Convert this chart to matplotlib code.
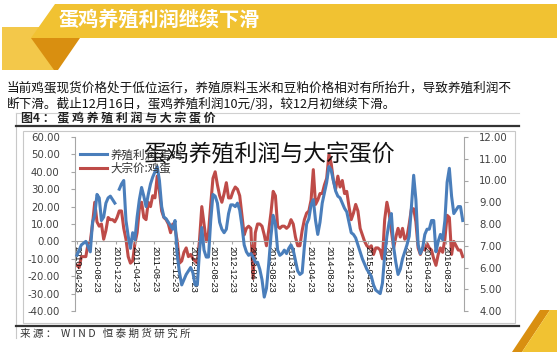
import matplotlib
matplotlib.use("Agg")
import matplotlib.pyplot as plt
import matplotlib.patches as mpatches
import matplotlib.dates as mdates
import numpy as np
import pandas as pd

plt.rcParams['font.family'] = ['Noto Sans CJK SC', 'DejaVu Sans']

# ---- data (one point every 14 days from 2010-04-23) ----
start_date = "2010-04-23"
profit = [
    -8, -5, -2, -1, 0, -3, -6, 11, 15, 27,
    25, 12, 14, 22, 25, 26, 24, 22, np.nan, 30,
    33, 35, 12, 3, -4, 5, 1, 14, 24, 31,
    26, 20, 27, 33, 37, 40, 43, 35, 20, 14,
    13, 11, 9, 7, 12, -8, -18, -25, -22, -19,
    -17, -15, -18, -25, -25, -5, 8, -5, -9, -9,
    12, 27, 26, 22, 11, 7, 5, 7, 16, 21,
    21, 20, 22, 18, 9, -2, -6, -8, -7, -9,
    -12, -12, -16, -22, -32, -27, -13, 3, 15, 10,
    -5, -8, -7, -5, -7, -4, -2, -5, -11, -17,
    -19, -18, -3, 10, 13, 21, 24, 12, 4, 11,
    22, 28, 34, 43, 41, 35, 29, 26, 25, 22,
    19, 17, 11, 5, 4, 2, -2, -6, -10, -13,
    -16, -18, -20, -25, -28, -29, -30, -24, -8, 3,
    11, 16, -3, -12, -19, -16, -10, -6, -2, 3,
    20, 38, 24, -2, -7, -4, 4, 7, 7, 12,
    12, -6, 0, 4, 1, 12, 34, 42, 26, 16,
    18, 20, 20, 12,
]
egg_price = [
    6.1, 6.0, 6.5, 6.5, 6.5, 7.1, 7.2, 8.0, 9.0, 8.1,
    7.9, 8.0, 7.3, 7.7, 8.3, 8.2, 8.2, 8.1, 8.3, 8.6,
    8.6, 7.8, 7.3, 6.5, 6.2, 6.3, 7.1, 7.6, 8.7, 9.0,
    8.3, 8.2, 9.0, 8.8, 9.3, 9.2, 10.2, 9.5, 8.6, 8.3,
    8.2, 8.0, 7.6, 8.0, 7.8, 7.2, 6.2, 6.3, 6.7, 6.9,
    6.5, 6.6, 6.4, 6.3, 6.2, 7.3, 8.8, 8.0, 7.2, 7.6,
    8.9, 10.1, 10.4, 9.8, 9.3, 9.0, 9.4, 9.9, 9.2, 9.2,
    9.5, 9.7, 9.6, 9.3, 8.4, 7.5, 7.8, 7.9, 7.8, 5.5,
    7.6, 8.0, 8.0, 7.9, 7.5, 7.0, 7.7, 8.5, 9.5, 9.3,
    7.9, 7.8, 7.9, 7.9, 7.8, 7.9, 8.2, 8.0, 7.4, 7.0,
    7.0, 7.7, 8.2, 8.5, 8.6, 9.1, 10.5, 8.9, 9.1, 9.4,
    9.4, 9.8, 10.1, 11.2, 10.8, 10.0, 9.6, 10.2, 9.7, 10.0,
    9.4, 9.5, 8.8, 8.2, 8.5, 8.9, 8.6, 7.8, 7.5, 7.2,
    7.0, 6.9, 7.0, 6.6, 6.9, 6.9, 6.8, 6.4, 8.2, 9.0,
    8.5, 7.7, 6.9, 7.4, 7.8, 7.4, 7.8, 7.3, 7.4, 8.0,
    8.7, 8.7, 8.1, 6.9, 6.6, 6.9, 6.8, 7.1, 6.9, 6.8,
    6.4, 6.1, 6.6, 6.9, 6.7, 7.3, 8.4, 8.3, 6.6, 7.2,
    7.0, 6.8, 6.8, 6.5,
]
tick_dates = pd.date_range("2010-04-23", "2016-08-23", freq=pd.DateOffset(months=4))
left_ticks = [60, 50, 40, 30, 20, 10, 0, -10, -20, -30, -40]
right_ticks = [12, 11, 10, 9, 8, 7, 6, 5, 4]

dates = pd.date_range(start_date, periods=len(profit), freq="14D")

W, H = 557, 352
fig = plt.figure(figsize=(W / 100, H / 100), dpi=100)

# background / decoration layer in pixel coordinates
bg = fig.add_axes([0, 0, 1, 1])
bg.set_xlim(0, W)
bg.set_ylim(H, 0)
bg.axis("off")

yellow = "#F1C232"
light_yellow = "#F3C84A"
orange = "#D98F10"

bg.add_patch(mpatches.Rectangle((2, 27), 55, 43, color=light_yellow, lw=0))
bg.add_patch(mpatches.Polygon([(55, 4), (W, 4), (W, 38), (31, 38)], color=yellow, lw=0))
bg.add_patch(mpatches.Polygon([(31, 38), (80, 38), (58, 70), (54, 70)], color=orange, lw=0))
bg.add_patch(mpatches.Polygon([(540, 310), (550, 310), (522, 352), (512, 352)], color=orange, lw=0))
bg.add_patch(mpatches.Polygon([(550, 310), (W, 310), (W, 352), (522, 352)], color=yellow, lw=0))

bg.text(59, 19, "蛋鸡养殖利润继续下滑", color="white", fontsize=14.5,
        fontweight="bold", va="center", ha="left")

bg.text(7, 88, "当前鸡蛋现货价格处于低位运行，养殖原料玉米和豆粕价格相对有所抬升，导致养殖利润不",
        fontsize=9.1, va="center", ha="left", color="#111111")
bg.text(7, 104, "断下滑。截止12月16日，蛋鸡养殖利润10元/羽，较12月初继续下滑。",
        fontsize=9.1, va="center", ha="left", color="#111111")

# figure frame
bg.plot([16, 16], [113, 338], color="#C8C8C8", lw=0.8)
bg.plot([16, 519], [113, 113], color="#D0D0D0", lw=0.8)
bg.plot([16, 519], [125.5, 125.5], color="#333333", lw=1.6)
bg.plot([16, 519], [325.5, 325.5], color="#333333", lw=1.6)
bg.add_patch(mpatches.Rectangle((22.7, 131), 492, 192, fill=False, ec="#C8C8C8", lw=0.8))

bg.text(21, 119, "图4 ： 蛋 鸡 养 殖 利 润 与 大 宗 蛋 价", fontsize=8.6,
        fontweight="bold", va="center", ha="left", color="#222222")
bg.text(20, 333.5, "来 源 ：  W I N D   恒 泰 期 货 研 究 所", fontsize=7.6,
        va="center", ha="left", color="#333333")

# chart
ax = fig.add_axes([75 / W, 1 - 311 / H, (464 - 75) / W, (311 - 137) / H])
ax.patch.set_alpha(0)
ax2 = ax.twinx()

blue = "#4A7EBB"
red = "#BE4B48"
l1, = ax.plot(dates, profit, color=blue, lw=2.2, label="养殖利润:蛋鸡", zorder=3)
l2, = ax2.plot(dates, egg_price, color=red, lw=2.2, label="大宗价:鸡蛋", zorder=2)
ax.set_zorder(ax2.get_zorder() + 1)

ax.set_ylim(-40, 60)
ax2.set_ylim(4, 12)
ax.set_xlim(pd.Timestamp("2010-04-11"), pd.Timestamp("2016-12-17"))

grey = "#A6A6A6"
for a in (ax, ax2):
    a.spines["top"].set_visible(False)
    a.spines["left"].set_color(grey)
    a.spines["right"].set_color(grey)
    a.spines["bottom"].set_visible(False)
ax.spines["bottom"].set_visible(True)
ax.spines["bottom"].set_position(("data", 0))
ax.spines["bottom"].set_color(grey)
ax2.spines["left"].set_visible(False)
ax.spines["right"].set_visible(False)

ax.set_yticks(left_ticks)
ax.set_yticklabels([f"{v:.2f}" for v in left_ticks], fontsize=7.3,
                   family="DejaVu Sans", color="#404040")
ax2.set_yticks(right_ticks)
ax2.set_yticklabels([f"{v:.2f}" for v in right_ticks], fontsize=7.3,
                    family="DejaVu Sans", color="#404040")
ax.tick_params(axis="y", direction="out", length=3, color=grey, pad=8)
ax2.tick_params(axis="y", direction="out", length=3, color=grey, pad=8)

ax.set_xticks(tick_dates)
ax.set_xticklabels([d.strftime("%Y-%m-%d") for d in tick_dates], rotation=270,
                   fontsize=6.6, family="Liberation Sans", color="#111111")
ax.tick_params(axis="x", direction="out", length=2.5, color=grey, pad=1)

ax.text(0.5, 0.9, "蛋鸡养殖利润与大宗蛋价", transform=ax.transAxes, fontsize=16.5,
        ha="center", va="center", color="#111111", zorder=5)

ax.legend(handles=[l1, l2], loc="upper left", bbox_to_anchor=(0.012, 0.935),
          frameon=False, fontsize=8.3, handlelength=2.4, handletextpad=0.25,
          labelspacing=0.05, borderpad=0, borderaxespad=0, labelcolor="#333333")

fig.savefig("out.png", dpi=100)
